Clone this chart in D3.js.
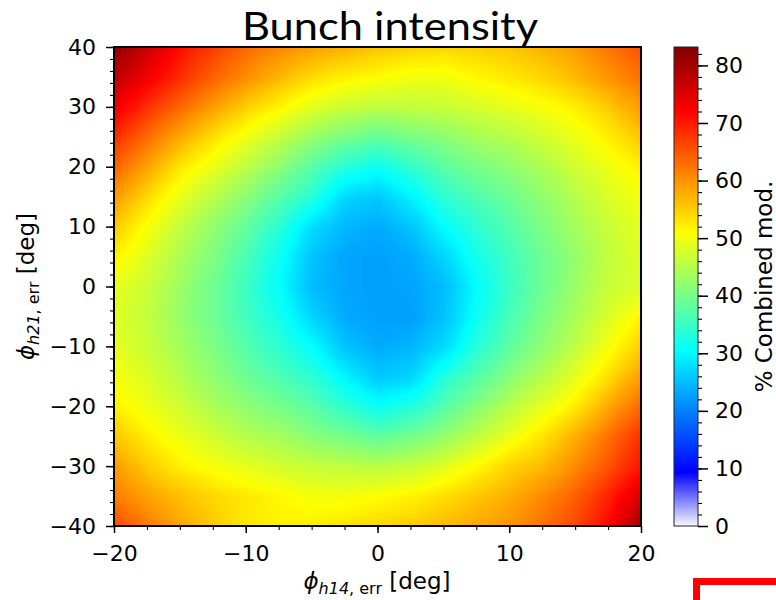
<!DOCTYPE html>
<html>
<head>
<meta charset="utf-8">
<script src="https://cdn.jsdelivr.net/npm/d3@7"></script>
<style>
  body { margin: 0; background: #fff; }
  svg { display: block; }
  .axis path.domain { display: none; }
  .axis line { stroke: #000; stroke-width: 1.5; }
  .axis.minor line { stroke-width: 1.1; }
  .axis text { font-family: "DejaVu Sans", sans-serif; font-size: 22px; fill: #000; }
</style>
</head>
<body>
<div id="chart"></div>
<script>

// grid of the scan (deg)
const xGrid = [-20, -17.5, -15, -12.5, -10, -7.5, -5, -2.5, 0, 2.5, 5, 7.5, 10, 12.5, 15, 17.5, 20];
const yGrid = [40, 35, 30, 25, 20, 15, 10, 5, 0, -5, -10, -15, -20, -25, -30, -35, -40];

// % combined modulation, one row per yGrid value (top to bottom)
const intensity = [
    [82, 76.5, 71, 67, 63.5, 61, 59, 57.5, 56, 55, 54.5, 55, 56, 57.5, 59.5, 62.5, 65.5],
    [78, 73, 68.5, 64, 60.5, 57, 54, 52, 51, 49.8, 49.8, 51.5, 53, 54.5, 57, 60, 63],
    [73.5, 68, 63.5, 59, 55, 51.5, 48.5, 46.5, 45.5, 46, 46.5, 47.5, 49, 50.4, 52.5, 55.5, 59.5],
    [68.5, 63, 58, 53.5, 49.7, 46, 42.7, 40, 38.3, 40, 41.5, 43.8, 45, 47.3, 49.7, 52.5, 56],
    [64, 58.5, 53, 49, 45.5, 41.5, 37.3, 33.2, 31.2, 34.4, 37.8, 40, 42, 44.4, 47.3, 49.7, 52.5],
    [59.5, 54, 49, 45, 41.5, 37.3, 33.2, 27, 26, 29.5, 34, 36.8, 39.4, 42.1, 45, 48, 50.4],
    [55.5, 50.4, 46, 42, 38.3, 33.6, 27.5, 24.5, 23.5, 25.5, 30.5, 34, 37.3, 40.5, 43.8, 46.7, 49],
    [52, 48, 44.4, 40.5, 36.3, 31.2, 25.5, 23, 22.5, 23.5, 27, 32, 35.8, 39.4, 42.7, 46, 48.5],
    [49, 46.7, 43.2, 39.4, 35.4, 30.5, 25, 23, 22.5, 23, 25, 30.5, 35.4, 39.4, 43.2, 46.7, 48],
    [48.5, 46, 42.7, 39.4, 35.8, 32, 27, 23.5, 22.5, 22.5, 25.5, 31.2, 36.3, 40.5, 44.4, 48, 52],
    [49, 46.7, 43.8, 40.5, 37.3, 34, 30.5, 25.5, 23.5, 24.5, 27.5, 33.6, 38.3, 42, 46, 50.4, 55.5],
    [50.4, 48, 45, 42.1, 39.4, 36.8, 34, 29.5, 26, 27, 33.2, 37.3, 41.5, 45, 49, 54, 59.5],
    [52.5, 49.7, 47.3, 44.4, 42, 40, 37.8, 34.4, 31.2, 33.2, 37.3, 41.5, 45.5, 49, 53, 58.5, 64],
    [56, 52.5, 49.7, 47.3, 45, 43.8, 41.5, 40, 38.3, 40, 42.7, 46, 49.7, 53.5, 58, 63, 68.5],
    [59.5, 55.5, 52.5, 50.4, 49, 47.5, 46.5, 46, 45.5, 46.5, 48.5, 51.5, 55, 57, 61, 65.5, 71],
    [62, 59, 56.5, 54.5, 53, 51.5, 50.3, 50.3, 51, 52, 54, 56, 58, 61, 64.5, 69.5, 76],
    [66.5, 62, 58.5, 55.5, 53, 52, 52.5, 53.5, 54.5, 55.5, 57, 58.5, 60, 63, 66.5, 72, 81]
];

const xTicks = [-20, -10, 0, 10, 20];
const yTicks = [-40, -30, -20, -10, 0, 10, 20, 30, 40];
const cbarTicks = [0, 10, 20, 30, 40, 50, 60, 70, 80];
const cbarMax = 83.2;

// colour map: white -> blue -> cyan -> yellow -> red -> dark red
const cmapValues = [0, 9.3, 30.4, 51, 72, cbarMax];
const cmapColors = ["#f8f8ff", "#0000ff", "#00ffff", "#ffff00", "#ff0000", "#800000"];

const fmt = d => d < 0 ? "\u2212" + Math.abs(d) : String(d);

const svg = d3.select("#chart").append("svg")
    .attr("width", 776)
    .attr("height", 600);

const x = d3.scaleLinear().domain([-20, 20]).range([114, 641]);
const y = d3.scaleLinear().domain([-40, 40]).range([526, 47]);
const color = d3.scaleLinear().domain(cmapValues).range(cmapColors).clamp(true);

// heat map: values go into a tiny grey canvas, the browser smooths it up,
// then every grey level is looked up in the colour map
function rasterize() {
    const nx = xGrid.length, ny = yGrid.length;
    const enc = d3.scaleLinear().domain([20, 84]).range([0, 255]).clamp(true);

    const small = document.createElement("canvas");
    small.width = nx;
    small.height = ny;
    const sctx = small.getContext("2d");
    const cells = sctx.createImageData(nx, ny);
    intensity.forEach((row, j) => row.forEach((v, i) => {
        const k = 4 * (j * nx + i);
        const g = Math.round(enc(v));
        cells.data[k] = cells.data[k + 1] = cells.data[k + 2] = g;
        cells.data[k + 3] = 255;
    }));
    sctx.putImageData(cells, 0, 0);

    const w = x.range()[1] - x.range()[0];
    const h = y.range()[0] - y.range()[1];
    const big = document.createElement("canvas");
    big.width = w;
    big.height = h;
    const ctx = big.getContext("2d");
    ctx.imageSmoothingEnabled = true;
    const cw = x(xGrid[1]) - x(xGrid[0]);
    const ch = y(yGrid[1]) - y(yGrid[0]);
    ctx.drawImage(small,
        x(xGrid[0]) - x.range()[0] - cw / 2,
        y(yGrid[0]) - y.range()[1] - ch / 2,
        cw * nx, ch * ny);

    const lut = d3.range(256).map(g => d3.rgb(color(enc.invert(g))));
    const px = ctx.getImageData(0, 0, w, h);
    for (let k = 0; k < px.data.length; k += 4) {
        const c = lut[px.data[k]];
        px.data[k] = c.r;
        px.data[k + 1] = c.g;
        px.data[k + 2] = c.b;
        px.data[k + 3] = 255;
    }
    ctx.putImageData(px, 0, 0);
    return big.toDataURL();
}

svg.append("image")
    .attr("x", x.range()[0])
    .attr("y", y.range()[1])
    .attr("width", x.range()[1] - x.range()[0])
    .attr("height", y.range()[0] - y.range()[1])
    .attr("preserveAspectRatio", "none")
    .attr("href", rasterize());

// axes
svg.append("g")
    .attr("class", "axis minor")
    .attr("transform", `translate(0,${y.range()[0]})`)
    .call(d3.axisBottom(x).tickValues(d3.range(-20, 20.01, 2.5)).tickSize(4).tickFormat(""));

svg.append("g")
    .attr("class", "axis")
    .attr("transform", `translate(0,${y.range()[0]})`)
    .call(d3.axisBottom(x).tickValues(xTicks).tickSize(7).tickPadding(12).tickFormat(fmt));

svg.append("g")
    .attr("class", "axis minor")
    .attr("transform", `translate(${x.range()[0]},0)`)
    .call(d3.axisLeft(y).tickValues(d3.range(-40, 40.01, 2)).tickSize(4).tickFormat(""));

svg.append("g")
    .attr("class", "axis")
    .attr("transform", `translate(${x.range()[0]},0)`)
    .call(d3.axisLeft(y).tickValues(yTicks).tickSize(8).tickPadding(10).tickFormat(fmt));

// frame
svg.append("rect")
    .attr("x", x.range()[0])
    .attr("y", y.range()[1])
    .attr("width", x.range()[1] - x.range()[0])
    .attr("height", y.range()[0] - y.range()[1])
    .attr("fill", "none")
    .attr("stroke", "#000")
    .attr("stroke-width", 2);

// colour bar
const cbX = 674, cbW = 24;
const cy = d3.scaleLinear().domain([0, cbarMax]).range([526, 47]);

const grad = svg.append("defs").append("linearGradient")
    .attr("id", "cmap")
    .attr("x1", 0).attr("y1", 1)
    .attr("x2", 0).attr("y2", 0);

grad.selectAll("stop")
    .data(cmapValues)
    .enter().append("stop")
    .attr("offset", d => d / cbarMax)
    .attr("stop-color", d => color(d));

svg.append("rect")
    .attr("x", cbX)
    .attr("y", cy(cbarMax))
    .attr("width", cbW)
    .attr("height", cy(0) - cy(cbarMax))
    .attr("fill", "url(#cmap)")
    .attr("stroke", "#222")
    .attr("stroke-width", 1);

svg.append("g")
    .attr("class", "axis minor")
    .attr("transform", `translate(${cbX + cbW},0)`)
    .call(d3.axisRight(cy).tickValues(d3.range(0, 83, 2)).tickSize(4).tickFormat(""));

svg.append("g")
    .attr("class", "axis")
    .attr("transform", `translate(${cbX + cbW},0)`)
    .call(d3.axisRight(cy).tickValues(cbarTicks).tickSize(10).tickPadding(7).tickFormat(fmt));

// labels
const labelFont = "DejaVu Sans, sans-serif";

const xLabel = svg.append("text")
    .attr("x", 377)
    .attr("y", 589)
    .attr("text-anchor", "middle")
    .style("font-family", labelFont)
    .style("font-size", "23px");
xLabel.append("tspan").style("font-style", "italic").text("\u03d5");
xLabel.append("tspan").attr("dy", 5).style("font-size", "16px").style("font-style", "italic").text("h14");
xLabel.append("tspan").style("font-size", "16px").text(", err");
xLabel.append("tspan").attr("dy", -5).text(" [deg]");

const yLabel = svg.append("text")
    .attr("transform", "translate(34,286.5) rotate(-90)")
    .attr("text-anchor", "middle")
    .style("font-family", labelFont)
    .style("font-size", "23px");
yLabel.append("tspan").style("font-style", "italic").text("\u03d5");
yLabel.append("tspan").attr("dy", 5).style("font-size", "16px").style("font-style", "italic").text("h21");
yLabel.append("tspan").style("font-size", "16px").text(", err");
yLabel.append("tspan").attr("dy", -5).text(" [deg]");

svg.append("text")
    .attr("transform", "translate(772,286.5) rotate(-90)")
    .attr("text-anchor", "middle")
    .style("font-family", labelFont)
    .style("font-size", "23px")
    .text("% Combined mod.");

svg.append("text")
    .attr("x", 390)
    .attr("y", 40)
    .attr("text-anchor", "middle")
    .attr("textLength", 296)
    .attr("lengthAdjust", "spacingAndGlyphs")
    .style("font-family", "Lato, sans-serif")
    .style("font-size", "38px")
    .text("Bunch intensity");

// red box in the corner of the slide
svg.append("rect")
    .attr("x", 696.5)
    .attr("y", 581.5)
    .attr("width", 200)
    .attr("height", 100)
    .attr("fill", "none")
    .attr("stroke", "#ff0000")
    .attr("stroke-width", 7);

</script>
</body>
</html>
